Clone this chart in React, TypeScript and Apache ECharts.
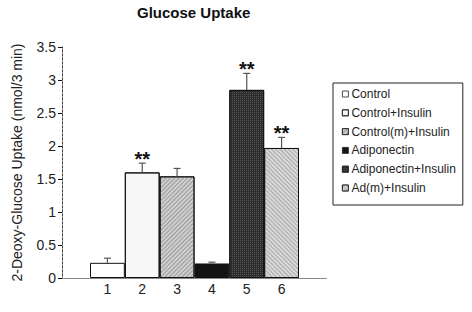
import React, { useEffect, useRef } from "react";
import * as echarts from "echarts";

const categories = ["1", "2", "3", "4", "5", "6"];
const legendNames = [
  "Control",
  "Control+Insulin",
  "Control(m)+Insulin",
  "Adiponectin",
  "Adiponectin+Insulin",
  "Ad(m)+Insulin",
];
const means = [0.23, 1.6, 1.54, 0.22, 2.85, 1.97];
const upper = [0.3, 1.74, 1.66, 0.24, 3.1, 2.13];
const significance = ["", "**", "", "", "**", "**"];
const yTicks = [0, 3.5, 0.5];

const fills = ["#ffffff", "#f7f7f7", "#cfcfcf", "#141414", "#2c2c2c", "#d9d9d9"];
const decals: any[] = [
  null,
  { symbol: "circle", symbolSize: 0.5, dashArrayX: [1, 0], dashArrayY: [3, 0], color: "#9a9a9a", rotation: 0 },
  { symbol: "rect", dashArrayX: [1, 0], dashArrayY: [1, 2], rotation: -Math.PI / 4, color: "#9a9a9a" },
  null,
  { symbol: "rect", dashArrayX: [1, 1], dashArrayY: [1, 1], rotation: 0, color: "#555555" },
  { symbol: "rect", dashArrayX: [1, 0], dashArrayY: [1, 2], rotation: Math.PI / 4, color: "#a8a8a8" },
];

const FONT = "'Liberation Sans', Arial, sans-serif";

export default function App() {
  const ref = useRef<HTMLDivElement>(null);
  useEffect(() => {
    if (!ref.current) return;
    const chart = echarts.init(ref.current, undefined, { renderer: "svg" });
    const barSeries = legendNames.map((name, i) => ({
      name,
      type: "bar",
      xAxisIndex: 2,
      yAxisIndex: 2,
      barGap: "-100%",
      barCategoryGap: "0%",
      barWidth: "100%",
      itemStyle: {
        color: fills[i],
        borderColor: "#111",
        borderWidth: 1,
        decal: decals[i] || undefined,
      },
      data: categories.map((_, j) => (j === i ? means[j] : "-")),
    }));
    const errData = categories.map((_, i) => [i, means[i], upper[i], significance[i]]);
    chart.setOption({
      animation: false,
      textStyle: { fontFamily: FONT },
      title: {
        text: "Glucose Uptake",
        left: 137,
        top: 5,
        padding: 0,
        textStyle: { fontSize: 15, fontWeight: "bold", color: "#111", fontFamily: FONT },
      },
      legend: {
        orient: "vertical",
        left: 333,
        top: 83,
        padding: [5, 7, 11, 9],
        itemGap: 6.8,
        itemWidth: 6,
        itemHeight: 6,
        itemStyle: { borderColor: "#222", borderWidth: 0.8 },
        icon: "rect",
        borderColor: "#222",
        borderWidth: 1,
        textStyle: { fontSize: 12, color: "#222", fontFamily: FONT, padding: [0, 0, 0, -2] },
        data: legendNames,
      },
      grid: [
        { left: 62, top: 47, width: 264, height: 231 },
        { left: 90, top: 47, width: 209, height: 231 },
      ],
      xAxis: [
        {
          gridIndex: 0, type: "value", min: 0, max: 1, position: "bottom",
          axisLine: { show: true, lineStyle: { color: "#111", width: 1 } },
          axisTick: { show: false }, axisLabel: { show: false }, splitLine: { show: false },
        },
        {
          gridIndex: 0, type: "value", min: 0, max: 1, position: "top",
          axisLine: { show: true, lineStyle: { color: "#888", width: 1 } },
          axisTick: { show: false }, axisLabel: { show: false }, splitLine: { show: false },
        },
        {
          gridIndex: 1, type: "category", data: categories,
          axisLine: { show: false }, axisTick: { show: false },
          axisLabel: { fontSize: 14, color: "#222", margin: 4, fontFamily: FONT },
        },
      ],
      yAxis: [
        {
          gridIndex: 0, type: "value", min: yTicks[0], max: yTicks[1], interval: yTicks[2],
          name: "2-Deoxy-Glucose Uptake (nmol/3 min)",
          nameLocation: "middle", nameGap: 38,
          nameTextStyle: { fontSize: 14, color: "#222", fontFamily: FONT },
          axisLine: { show: true, lineStyle: { color: "#111", width: 1 } },
          axisTick: { show: true, length: 4, lineStyle: { color: "#111" } },
          axisLabel: { fontSize: 14, color: "#222", margin: 6, fontFamily: FONT },
          splitLine: { show: false },
        },
        {
          gridIndex: 0, type: "value", min: yTicks[0], max: yTicks[1], position: "right",
          axisLine: { show: true, lineStyle: { color: "#888", width: 1, type: [2, 2] } },
          axisTick: { show: false }, axisLabel: { show: false }, splitLine: { show: false },
        },
        {
          gridIndex: 1, type: "value", min: yTicks[0], max: yTicks[1], show: false,
        },
      ],
      series: [
        ...barSeries,
        {
          type: "custom",
          xAxisIndex: 2,
          yAxisIndex: 2,
          silent: true,
          z: 5,
          data: errData,
          renderItem: (params: any, api: any) => {
            const x = api.coord([api.value(0), api.value(1)])[0];
            const y0 = api.coord([api.value(0), api.value(1)])[1];
            const y1 = api.coord([api.value(0), api.value(2)])[1];
            const sig = errData[params.dataIndex][3] as string;
            const children: any[] = [
              { type: "line", shape: { x1: x, y1: y0, x2: x, y2: y1 }, style: { stroke: "#555", lineWidth: 1.2 } },
              { type: "line", shape: { x1: x - 3.5, y1: y1, x2: x + 3.5, y2: y1 }, style: { stroke: "#555", lineWidth: 1.2 } },
            ];
            if (sig) {
              children.push({
                type: "text",
                style: {
                  text: sig, x, y: y1 + 6, align: "center", verticalAlign: "bottom",
                  fontSize: 20, fontWeight: "bold", fill: "#111", fontFamily: FONT,
                },
              });
            }
            return { type: "group", children };
          },
        },
      ],
    });
    return () => chart.dispose();
  }, []);
  return <div ref={ref} style={{ position: "fixed", left: 0, top: 0, width: 472, height: 312, background: "#fff" }} />;
}
